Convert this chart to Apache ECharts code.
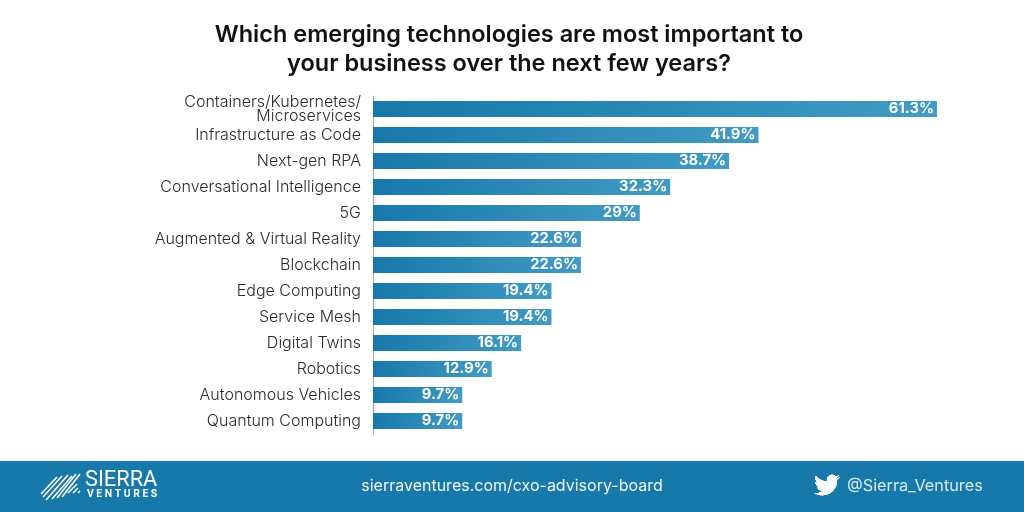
<!DOCTYPE html>
<html><head><meta charset="utf-8">
<style>html,body{margin:0;padding:0;background:#fff}#c{width:1024px;height:512px}</style>
<script src="https://cdn.jsdelivr.net/npm/echarts@6/dist/echarts.min.js"></script>
</head><body><div id="c"></div>
<script>
const categories = ["Containers/Kubernetes/\nMicroservices","Infrastructure as Code","Next-gen RPA","Conversational Intelligence","5G","Augmented & Virtual Reality","Blockchain","Edge Computing","Service Mesh","Digital Twins","Robotics","Autonomous Vehicles","Quantum Computing"];
const values = [61.3,41.9,38.7,32.3,29,22.6,22.6,19.4,19.4,16.1,12.9,9.7,9.7];
const titleText = "Which emerging technologies are most important to\nyour business over the next few years?";
const footerUrl = "sierraventures.com/cxo-advisory-board";
const footerHandle = "@Sierra_Ventures";
const FONT = "Inter";
const stripes = [[41,494,57,477],[43,497,62,476],[46,500,68,475],[52,499,72,476],[57,498,76,474],[62,497,80,474],[68,493,77,484],[73,493,78,488],[78,493,80,491]];
const bird = "M23.953 4.57a10 10 0 01-2.825.775 4.958 4.958 0 002.163-2.723c-.951.555-2.005.959-3.127 1.184a4.92 4.92 0 00-8.384 4.482C7.69 8.095 4.067 6.13 1.64 3.162a4.822 4.822 0 00-.666 2.475c0 1.71.87 3.213 2.188 4.096a4.904 4.904 0 01-2.228-.616v.06a4.923 4.923 0 003.946 4.827 4.996 4.996 0 01-2.212.085 4.936 4.936 0 004.604 3.417 9.867 9.867 0 01-6.102 2.105c-.39 0-.779-.023-1.17-.067a13.995 13.995 0 007.557 2.209c9.053 0 13.998-7.496 13.998-13.985 0-.21 0-.42-.015-.63A9.935 9.935 0 0024 4.59z";
const birdCanvas = document.createElement('canvas');
birdCanvas.width = 96; birdCanvas.height = 96;
const bctx = birdCanvas.getContext('2d');
bctx.scale(4,4); bctx.fillStyle = '#fff'; bctx.fill(new Path2D(bird));

const chart = echarts.init(document.getElementById('c'), null, {renderer:'canvas'});
chart.setOption({
  animation:false,
  backgroundColor:'#fff',
  title:{text:titleText,left:509,top:20,padding:0,textAlign:'center',
    textStyle:{fontFamily:FONT,fontSize:23.5,fontWeight:600,color:'#111',lineHeight:29}},
  grid:{left:373,top:96,width:644,height:338,containLabel:false},
  xAxis:{type:'value',min:0,max:70,show:false},
  yAxis:{type:'category',inverse:true,data:categories,
    axisLine:{show:true,lineStyle:{color:'#aaa',width:1}},
    axisTick:{show:false},
    axisLabel:{margin:12,fontFamily:FONT,fontSize:16,fontWeight:300,color:'#2b2b2b',lineHeight:14,align:'right'}},
  series:[{type:'bar',barWidth:16,
    data:values.map(v=>({value:v,itemStyle:{color:new echarts.graphic.LinearGradient(0,0,1,0,[{offset:0,color:'#1778aa'},{offset:1,color:'#429bc4'}])}})),
    label:{show:true,position:'insideRight',distance:3,formatter:p=>p.value+'%',
      fontFamily:FONT,fontSize:14.8,fontWeight:700,color:'#fff'}}],
  graphic:[
    {type:'rect',silent:true,shape:{x:0,y:461,width:1024,height:51},style:{fill:'#1778aa'}},
    ...stripes.map(s=>({type:'line',silent:true,shape:{x1:s[0],y1:s[1],x2:s[2],y2:s[3]},style:{stroke:'#fff',lineWidth:1.5}})),
    {type:'text',silent:true,x:85,y:470,style:{text:'SIERRA',fontFamily:'Roboto',fontSize:21.8,fontWeight:400,fill:'#fff'}},
    {type:'text',silent:true,x:87,y:489,style:{text:'V E N T U R E S',fontFamily:'Roboto',fontSize:10.4,fontWeight:700,fill:'#fff'}},
    {type:'text',silent:true,x:512,y:486,style:{text:footerUrl,align:'center',verticalAlign:'middle',fontFamily:FONT,fontSize:16,fill:'#f2f8fb'}},
    {type:'image',silent:true,x:814,y:472,style:{image:birdCanvas,width:26,height:26}},
    {type:'text',silent:true,x:847,y:486,style:{text:footerHandle,align:'left',verticalAlign:'middle',fontFamily:FONT,fontSize:16.3,fill:'#d9ebf4'}}
  ]
});
</script></body></html>
